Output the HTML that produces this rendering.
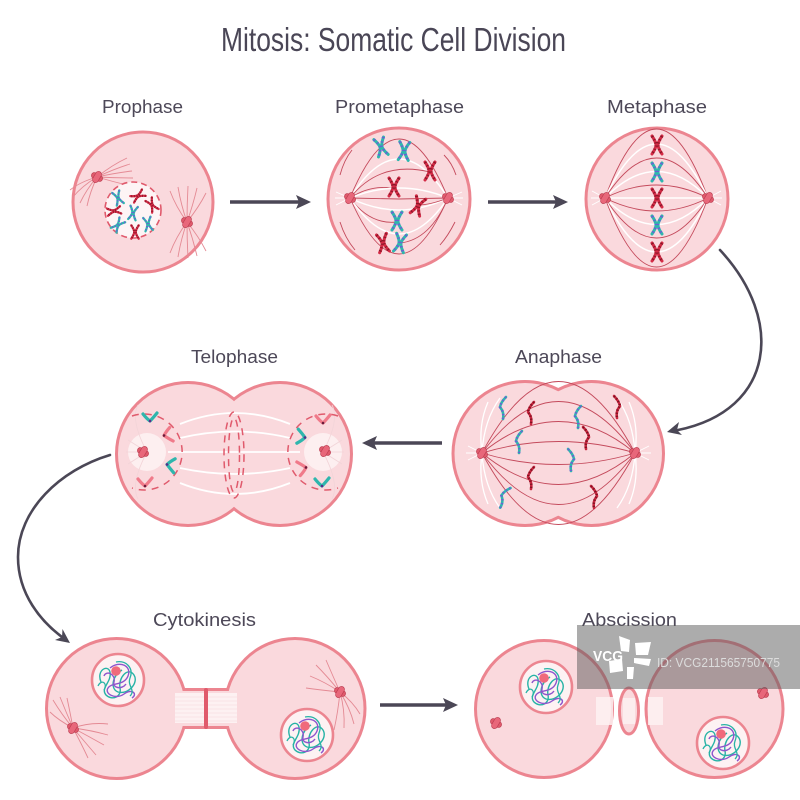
<!DOCTYPE html>
<html><head><meta charset="utf-8"><style>
html,body{margin:0;padding:0;background:#fff;}
svg{display:block;}
text{font-family:"Liberation Sans",sans-serif;fill:#4d4858;}
</style></head><body>
<svg width="800" height="800" viewBox="0 0 800 800" xmlns="http://www.w3.org/2000/svg">
<defs>
  <g id="xr" fill="none" stroke-linecap="round">
    <path d="M-5,-9 Q-1,-3 -1,0 Q-1,3 -5,9 M5,-9 Q1,-3 1,0 Q1,3 5,9" stroke="#d42b46" stroke-width="3"/>
    <path d="M-5,-9 Q-1,-3 -1,0 Q-1,3 -5,9 M5,-9 Q1,-3 1,0 Q1,3 5,9" stroke="#8c1628" stroke-width="3" stroke-dasharray="1.2 2.3" stroke-linecap="butt"/>
  </g>
  <g id="xt" fill="none" stroke-linecap="round">
    <path d="M-5,-9 Q-1,-3 -1,0 Q-1,3 -5,9 M5,-9 Q1,-3 1,0 Q1,3 5,9" stroke="#2fb6ad" stroke-width="3"/>
    <path d="M-5,-9 Q-1,-3 -1,0 Q-1,3 -5,9 M5,-9 Q1,-3 1,0 Q1,3 5,9" stroke="#6a5fd4" stroke-width="3" stroke-dasharray="1.3 3" stroke-linecap="butt"/>
  </g>
  <g id="ar" fill="none" stroke-linecap="round">
    <path d="M4,-11 Q-1,-6 -2,-1 L0,2 Q2,6 1,11" stroke="#c8263f" stroke-width="2.6"/>
    <path d="M4,-11 Q-1,-6 -2,-1 L0,2 Q2,6 1,11" stroke="#7e1020" stroke-width="2.6" stroke-dasharray="1.2 2" stroke-linecap="butt"/>
  </g>
  <g id="at" fill="none" stroke-linecap="round">
    <path d="M4,-11 Q-1,-6 -2,-1 L0,2 Q2,6 1,11" stroke="#2fb6ad" stroke-width="2.6"/>
    <path d="M4,-11 Q-1,-6 -2,-1 L0,2 Q2,6 1,11" stroke="#6a5fd4" stroke-width="2.6" stroke-dasharray="1.3 2.6" stroke-linecap="butt"/>
  </g>
  <g id="vp" fill="none" stroke-linecap="round">
    <path d="M-7,-4 Q-3,1 0,3 M7,-5 Q3,0 0,3" stroke="#f07a8a" stroke-width="3.2"/>
    <circle cx="0" cy="3" r="1.3" fill="#6a1a3a" stroke="none"/>
  </g>
  <g id="vt" fill="none" stroke-linecap="round">
    <path d="M-7,-4 Q-3,1 0,3 M7,-5 Q3,0 0,3" stroke="#2fb6ad" stroke-width="3.2"/>
    <circle cx="0" cy="3" r="1.3" fill="#5a2a8a" stroke="none"/>
  </g>
  <g id="cen">
    <rect x="-6" y="-3" width="12" height="6" rx="3" fill="#e05a6c" stroke="#b83a4e" stroke-width="0.6" transform="rotate(30)"/>
    <rect x="-3" y="-6" width="6" height="12" rx="3" fill="#e8677a" stroke="#b83a4e" stroke-width="0.6" transform="rotate(30)"/>
  </g>
  <g id="nuc">
    <circle r="26" fill="#fdf2f3" stroke="#ec8590" stroke-width="2.6"/>
    <path d="M-17,2 C-22,-10 -10,-16 -8,-8 C-6,2 -18,8 -12,15 C-6,21 4,17 2,8 C0,-2 10,-14 16,-5 C21,3 10,15 0,12 C-8,9 -6,-4 4,-10" fill="none" stroke="#27b3a6" stroke-width="1.4"/>
    <path d="M-8,-12 C2,-20 14,-14 10,-4 C6,6 -6,2 -10,8 C-14,14 -2,20 6,14 C14,8 20,14 14,18 M-14,-4 C-12,-10 -2,-6 -4,2 C-6,8 4,10 8,4" fill="none" stroke="#8e55cc" stroke-width="1.4"/>
    <path d="M-2,-18 C8,-20 16,-12 12,-2 C9,6 18,10 12,16 M-20,6 C-16,-2 -10,4 -14,10" fill="none" stroke="#27b3a6" stroke-width="1.3"/>
    <circle cx="-2" cy="-9" r="4.8" fill="#f06a7c"/>
  </g>
</defs>

<!-- Title -->
<text x="221" y="51" font-size="33" textLength="345" lengthAdjust="spacingAndGlyphs" style="fill:#4a4656">Mitosis: Somatic Cell Division</text>

<!-- Labels -->
<g style="fill:#55505f">
<text x="102" y="113" font-size="18" textLength="81" lengthAdjust="spacingAndGlyphs">Prophase</text>
<text x="335" y="113" font-size="18" textLength="129" lengthAdjust="spacingAndGlyphs">Prometaphase</text>
<text x="607" y="113" font-size="18" textLength="100" lengthAdjust="spacingAndGlyphs">Metaphase</text>
<text x="191" y="363" font-size="18" textLength="87" lengthAdjust="spacingAndGlyphs">Telophase</text>
<text x="515" y="363" font-size="18" textLength="87" lengthAdjust="spacingAndGlyphs">Anaphase</text>
<text x="153" y="626" font-size="18" textLength="103" lengthAdjust="spacingAndGlyphs">Cytokinesis</text>
<text x="582" y="626" font-size="18" textLength="95" lengthAdjust="spacingAndGlyphs">Abscission</text>
</g>

<!-- ===== Prophase ===== -->
<circle cx="143" cy="202" r="70" fill="#fad9dd" stroke="#ec8590" stroke-width="3"/>
<g fill="none" stroke="#e48a94" stroke-width="0.9">
  <path d="M97,177 Q112,165 127,158"/><path d="M97,177 Q114,169 130,164"/><path d="M97,177 Q115,173 132,171"/><path d="M97,177 Q115,178 133,178"/><path d="M97,177 Q114,182 131,186"/>
  <path d="M97,177 Q90,192 87,206"/><path d="M97,177 Q86,190 80,203"/><path d="M97,177 Q82,186 73,197"/><path d="M97,177 Q80,182 70,190"/>
  <path d="M187,222 Q176,207 170,191"/><path d="M187,222 Q181,205 178,187"/><path d="M187,222 Q187,204 188,186"/><path d="M187,222 Q193,205 197,188"/><path d="M187,222 Q199,207 206,193"/>
  <path d="M187,222 Q176,237 170,253"/><path d="M187,222 Q181,239 178,257"/><path d="M187,222 Q187,240 188,258"/><path d="M187,222 Q193,239 197,256"/><path d="M187,222 Q199,237 206,251"/>
</g>
<use href="#cen" transform="translate(97,177)"/>
<use href="#cen" transform="translate(187,222)"/>
<circle cx="133" cy="210" r="28" fill="#fdf4f5" stroke="#e05a6c" stroke-width="1.6" stroke-dasharray="6 4"/>
<use href="#xt" transform="translate(118,198) scale(0.75) rotate(-20)"/>
<use href="#xr" transform="translate(138,196) scale(0.75) rotate(60)"/>
<use href="#xr" transform="translate(152,205) scale(0.75) rotate(-30)"/>
<use href="#xr" transform="translate(114,211) scale(0.75) rotate(80)"/>
<use href="#xt" transform="translate(133,213) scale(0.75) rotate(10)"/>
<use href="#xt" transform="translate(148,224) scale(0.75) rotate(-10)"/>
<use href="#xt" transform="translate(118,225) scale(0.75) rotate(40)"/>
<use href="#xr" transform="translate(135,232) scale(0.75) rotate(0)"/>

<!-- arrow 1 -->
<line x1="230" y1="202" x2="300" y2="202" stroke="#4b4756" stroke-width="3.6"/>
<polygon points="311,202 296,195 299,202 296,209" fill="#4b4756"/>

<!-- ===== Prometaphase ===== -->
<circle cx="399" cy="199" r="71" fill="#fad9dd" stroke="#ec8590" stroke-width="3"/>
<g fill="none">
  <path d="M350,198 Q399,80 448,198" stroke="#c44a5c" stroke-width="0.9"/>
  <path d="M350,198 Q399,120 448,198" stroke="#fff" stroke-width="1.5"/>
  <path d="M350,198 Q380,160 430,172" stroke="#c44a5c" stroke-width="0.9"/>
  <path d="M350,198 Q370,185 392,188" stroke="#c44a5c" stroke-width="0.9"/>
  <path d="M350,198 L399,199 448,198" stroke="#c44a5c" stroke-width="0.9"/>
  <path d="M350,198 Q399,178 448,198" stroke="#fff" stroke-width="1.5"/>
  <path d="M350,198 Q399,222 448,198" stroke="#fff" stroke-width="1.5"/>
  <path d="M448,198 Q430,205 418,205" stroke="#c44a5c" stroke-width="0.9"/>
  <path d="M350,198 Q370,225 397,222" stroke="#c44a5c" stroke-width="0.9"/>
  <path d="M350,198 Q399,270 448,198" stroke="#fff" stroke-width="1.5"/>
  <path d="M350,198 Q399,310 448,198" stroke="#c44a5c" stroke-width="0.9"/>
  <path d="M448,198 Q430,240 400,243" stroke="#c44a5c" stroke-width="0.9"/>
  <path d="M340,175 Q344,160 352,150" stroke="#c44a5c" stroke-width="0.9"/>
  <path d="M444,155 Q452,163 456,175" stroke="#c44a5c" stroke-width="0.9"/>
  <path d="M340,222 Q345,238 355,250" stroke="#c44a5c" stroke-width="0.9"/>
  <path d="M440,245 Q448,236 455,222" stroke="#c44a5c" stroke-width="0.9"/>
  <path d="M350,198 L336,192 M350,198 L335,198 M350,198 L336,205 M448,198 L462,192 M448,198 L463,198 M448,198 L462,205" stroke="#fff" stroke-width="0.9"/>
</g>
<use href="#cen" transform="translate(350,198)"/>
<use href="#cen" transform="translate(448,198)"/>
<use href="#xt" transform="translate(381,147) rotate(-15)"/>
<use href="#xt" transform="translate(404,151) rotate(5)"/>
<use href="#xr" transform="translate(430,171) rotate(0)"/>
<use href="#xr" transform="translate(394,187) rotate(0)"/>
<use href="#xr" transform="translate(418,206) rotate(20)"/>
<use href="#xt" transform="translate(397,221) rotate(0)"/>
<use href="#xr" transform="translate(383,243) rotate(-10)"/>
<use href="#xt" transform="translate(400,243) rotate(10)"/>

<!-- arrow 2 -->
<line x1="488" y1="202" x2="557" y2="202" stroke="#4b4756" stroke-width="3.6"/>
<polygon points="568,202 553,195 556,202 553,209" fill="#4b4756"/>

<!-- ===== Metaphase ===== -->
<circle cx="657" cy="199" r="71" fill="#fad9dd" stroke="#ec8590" stroke-width="3"/>
<g fill="none">
  <path d="M605,198 Q656.5,60 708,198" stroke="#c44a5c" stroke-width="0.9"/>
  <path d="M605,198 Q656.5,90 708,198" stroke="#fff" stroke-width="1.5"/>
  <path d="M605,198 Q656.5,118 708,198" stroke="#c44a5c" stroke-width="0.9"/>
  <path d="M605,198 Q656.5,145 708,198" stroke="#fff" stroke-width="1.5"/>
  <path d="M605,198 Q656.5,172 708,198" stroke="#c44a5c" stroke-width="0.9"/>
  <path d="M605,198 L708,198" stroke="#fff" stroke-width="1.5"/>
  <path d="M605,198 Q656.5,224 708,198" stroke="#c44a5c" stroke-width="0.9"/>
  <path d="M605,198 Q656.5,251 708,198" stroke="#fff" stroke-width="1.5"/>
  <path d="M605,198 Q656.5,278 708,198" stroke="#c44a5c" stroke-width="0.9"/>
  <path d="M605,198 Q656.5,306 708,198" stroke="#fff" stroke-width="1.5"/>
  <path d="M605,198 Q656.5,336 708,198" stroke="#c44a5c" stroke-width="0.9"/>
  <path d="M605,198 L592,191 M605,198 L591,198 M605,198 L592,205 M708,198 L721,191 M708,198 L722,198 M708,198 L721,205" stroke="#fff" stroke-width="0.9"/>
</g>
<use href="#cen" transform="translate(605,198)"/>
<use href="#cen" transform="translate(708,198)"/>
<use href="#xr" transform="translate(657,145)"/>
<use href="#xt" transform="translate(657,172)"/>
<use href="#xr" transform="translate(657,198)"/>
<use href="#xt" transform="translate(657,225)"/>
<use href="#xr" transform="translate(657,252)"/>

<!-- curved arrow metaphase -> anaphase -->
<path d="M720,250 C785,320 775,410 678,430" fill="none" stroke="#4b4756" stroke-width="2.6" stroke-linecap="round"/>
<polygon points="667,432 682,435 677,430 679,422" fill="#4b4756"/>

<!-- ===== Anaphase ===== -->
<g>
  <circle cx="525" cy="453.5" r="70.5" fill="none" stroke="#ec8590" stroke-width="6"/>
  <circle cx="591.5" cy="453.5" r="70.5" fill="none" stroke="#ec8590" stroke-width="6"/>
  <circle cx="525" cy="453.5" r="70.5" fill="#fad9dd"/>
  <circle cx="591.5" cy="453.5" r="70.5" fill="#fad9dd"/>
</g>
<g fill="none">
  <path d="M482,453 Q558.5,310 635,453" stroke="#c44a5c" stroke-width="0.9"/>
  <path d="M482,453 Q558.5,350 635,453" stroke="#c44a5c" stroke-width="0.9"/>
  <path d="M482,453 Q558.5,390 635,453" stroke="#c44a5c" stroke-width="0.9"/>
  <path d="M482,453 Q558.5,430 635,453" stroke="#c44a5c" stroke-width="0.9"/>
  <path d="M482,453 Q558.5,476 635,453" stroke="#c44a5c" stroke-width="0.9"/>
  <path d="M482,453 Q558.5,516 635,453" stroke="#c44a5c" stroke-width="0.9"/>
  <path d="M482,453 Q558.5,556 635,453" stroke="#c44a5c" stroke-width="0.9"/>
  <path d="M482,453 Q558.5,596 635,453" stroke="#c44a5c" stroke-width="0.9"/>
  <path d="M482,453 Q484,420 500,398 M482,453 Q478,425 488,402 M482,453 Q484,486 500,508 M482,453 Q478,481 488,504" stroke="#fff" stroke-width="1.3"/>
  <path d="M635,453 Q633,420 617,398 M635,453 Q639,425 629,402 M635,453 Q633,486 617,508 M635,453 Q639,481 629,504" stroke="#fff" stroke-width="1.3"/>
  <path d="M482,453 L468,446 M482,453 L466,453 M482,453 L468,460 M635,453 L649,446 M635,453 L651,453 M635,453 L649,460" stroke="#fff" stroke-width="0.9"/>
</g>
<use href="#cen" transform="translate(482,453)"/>
<use href="#cen" transform="translate(635,453)"/>
<use href="#at" transform="translate(502,408)"/>
<use href="#ar" transform="translate(530,413)"/>
<use href="#at" transform="translate(577,417)"/>
<use href="#ar" transform="translate(618,407) scale(-1,1)"/>
<use href="#at" transform="translate(518,442)"/>
<use href="#ar" transform="translate(587,438) scale(-1,1)"/>
<use href="#at" transform="translate(572,460) scale(-1,1)"/>
<use href="#ar" transform="translate(530,478)"/>
<use href="#at" transform="translate(503,497) rotate(20)"/>
<use href="#ar" transform="translate(595,497) scale(-1,1)"/>

<!-- arrow 3 (left) -->
<line x1="442" y1="443" x2="373" y2="443" stroke="#4b4756" stroke-width="3.6"/>
<polygon points="362,443 377,436 374,443 377,450" fill="#4b4756"/>

<!-- ===== Telophase ===== -->
<g>
  <circle cx="188" cy="454" r="70" fill="none" stroke="#ec8590" stroke-width="6"/>
  <circle cx="280" cy="454" r="70" fill="none" stroke="#ec8590" stroke-width="6"/>
  <circle cx="188" cy="454" r="70" fill="#fad9dd"/>
  <circle cx="280" cy="454" r="70" fill="#fad9dd"/>
</g>
<circle cx="147" cy="452" r="19" fill="#fdeff0"/>
<circle cx="323" cy="452" r="19" fill="#fdeff0"/>
<g fill="none" stroke="#fff" stroke-width="1.8">
  <path d="M180,424 Q235,402 290,424"/>
  <path d="M180,438 Q235,425 290,438"/>
  <path d="M168,452 L300,452"/>
  <path d="M180,468 Q235,480 290,468"/>
  <path d="M180,483 Q235,505 290,483"/>
</g>
<g fill="none" stroke="#f2d4d8" stroke-width="0.8">
  <path d="M147,452 L128,440 M147,452 L126,452 M147,452 L128,464 M147,452 Q130,420 138,405 M147,452 Q130,484 138,499"/>
  <path d="M323,452 L342,440 M323,452 L344,452 M323,452 L342,464 M323,452 Q340,420 332,405 M323,452 Q340,484 332,499"/>
</g>
<g fill="none" stroke="#e05a6c" stroke-width="1.5" stroke-dasharray="7 6">
  <path d="M132,416 A38,38 0 1,1 132,488"/>
  <path d="M338,416 A38,38 0 1,0 338,488"/>
  <ellipse cx="234" cy="455" rx="10" ry="43"/>
  <ellipse cx="234" cy="455" rx="5.5" ry="37"/>
</g>
<use href="#cen" transform="translate(143,452)"/>
<use href="#cen" transform="translate(325,451)"/>
<use href="#vt" transform="translate(150,418)"/>
<use href="#vp" transform="translate(167,435) rotate(80)"/>
<use href="#vt" transform="translate(170,465) rotate(100)"/>
<use href="#vp" transform="translate(145,483)"/>
<use href="#vp" transform="translate(323,420)"/>
<use href="#vt" transform="translate(302,437) rotate(-80)"/>
<use href="#vp" transform="translate(303,468) rotate(-100)"/>
<use href="#vt" transform="translate(322,483)"/>

<!-- curved arrow telophase -> cytokinesis -->
<path d="M110,455 C60,470 18,510 18,557 C18,595 42,622 62,637" fill="none" stroke="#4b4756" stroke-width="2.6" stroke-linecap="round"/>
<polygon points="70,643 55,640 62,637 62.5,629" fill="#4b4756"/>

<!-- ===== Cytokinesis ===== -->
<g>
  <circle cx="116.5" cy="708.5" r="68.5" fill="none" stroke="#ec8590" stroke-width="6"/>
  <circle cx="295" cy="708.5" r="68.5" fill="none" stroke="#ec8590" stroke-width="6"/>
  <rect x="175" y="691" width="62" height="35" fill="none" stroke="#ec8590" stroke-width="6"/>
  <circle cx="116.5" cy="708.5" r="68.5" fill="#fad9dd"/>
  <circle cx="295" cy="708.5" r="68.5" fill="#fad9dd"/>
  <rect x="175" y="691" width="62" height="35" fill="#fad9dd"/>
</g>
<rect x="175" y="693" width="62" height="30" fill="#fdf1f2"/>
<g stroke="#f6d6da" stroke-width="0.6">
  <line x1="175" y1="697" x2="237" y2="697"/><line x1="175" y1="701" x2="237" y2="701"/><line x1="175" y1="705" x2="237" y2="705"/><line x1="175" y1="709" x2="237" y2="709"/><line x1="175" y1="713" x2="237" y2="713"/><line x1="175" y1="717" x2="237" y2="717"/><line x1="175" y1="721" x2="237" y2="721"/>
</g>
<rect x="204" y="688" width="4" height="41" rx="2" fill="#e05a6c"/>
<g fill="none" stroke="#e48a94" stroke-width="0.9">
  <path d="M73,728 Q62,715 53,700"/><path d="M73,728 Q66,712 60,697"/><path d="M73,728 Q70,712 67,698"/><path d="M73,728 Q58,720 50,712"/>
  <path d="M73,728 Q90,722 108,724"/><path d="M73,728 Q90,730 108,735"/><path d="M73,728 Q88,736 104,745"/><path d="M73,728 Q85,742 96,755"/><path d="M73,728 Q82,745 88,758"/>
  <path d="M340,692 Q325,682 310,676"/><path d="M340,692 Q327,676 316,665"/><path d="M340,692 Q332,674 326,660"/><path d="M340,692 Q320,690 306,688"/>
  <path d="M340,692 Q345,710 344,728"/><path d="M340,692 Q350,708 354,724"/><path d="M340,692 Q353,702 360,714"/><path d="M340,692 Q338,712 334,730"/>
</g>
<use href="#cen" transform="translate(73,728)"/>
<use href="#cen" transform="translate(340,692)"/>
<use href="#nuc" transform="translate(118,680)"/>
<use href="#nuc" transform="translate(307,735)"/>

<!-- arrow 4 -->
<line x1="380" y1="705" x2="447" y2="705" stroke="#4b4756" stroke-width="3.6"/>
<polygon points="458,705 443,698 446,705 443,712" fill="#4b4756"/>

<!-- ===== Abscission ===== -->
<circle cx="544" cy="709" r="68.5" fill="#fad9dd" stroke="#ec8590" stroke-width="3"/>
<circle cx="714.5" cy="709" r="68.5" fill="#fad9dd" stroke="#ec8590" stroke-width="3"/>
<g fill="#fdf1f2" opacity="0.85">
  <rect x="596" y="697" width="17" height="28"/>
  <rect x="648" y="697" width="15" height="28"/>
</g>
<ellipse cx="629" cy="711" rx="9.5" ry="23" fill="#fad9dd" stroke="#ec8590" stroke-width="3"/>
<rect x="623" y="698" width="12" height="26" fill="#fdf1f2" opacity="0.8"/>
<use href="#cen" transform="translate(496,723)"/>
<use href="#cen" transform="translate(763,693)"/>
<use href="#nuc" transform="translate(546,687)"/>
<use href="#nuc" transform="translate(723,743)"/>

<!-- watermark -->
<rect x="577" y="625" width="223" height="64" fill="#5a5a5a" opacity="0.5"/>
<text x="593" y="661" font-size="15" font-weight="bold" style="fill:#ffffff" textLength="30" lengthAdjust="spacingAndGlyphs">VCG</text>
<g fill="#ffffff">
  <polygon points="619,636 630,640 629,652 621,651"/>
  <polygon points="635,643 651,642 648,655 636,655"/>
  <polygon points="634,658 651,659 649,666 634,663"/>
  <polygon points="627,667 634,667 633,679 627,679"/>
  <polygon points="609,661 622,659 623,671 610,673"/>
</g>
<text x="657" y="667" font-size="13" style="fill:#dcdcdc" textLength="123" lengthAdjust="spacingAndGlyphs">ID: VCG211565750775</text>
</svg>
</body></html>
